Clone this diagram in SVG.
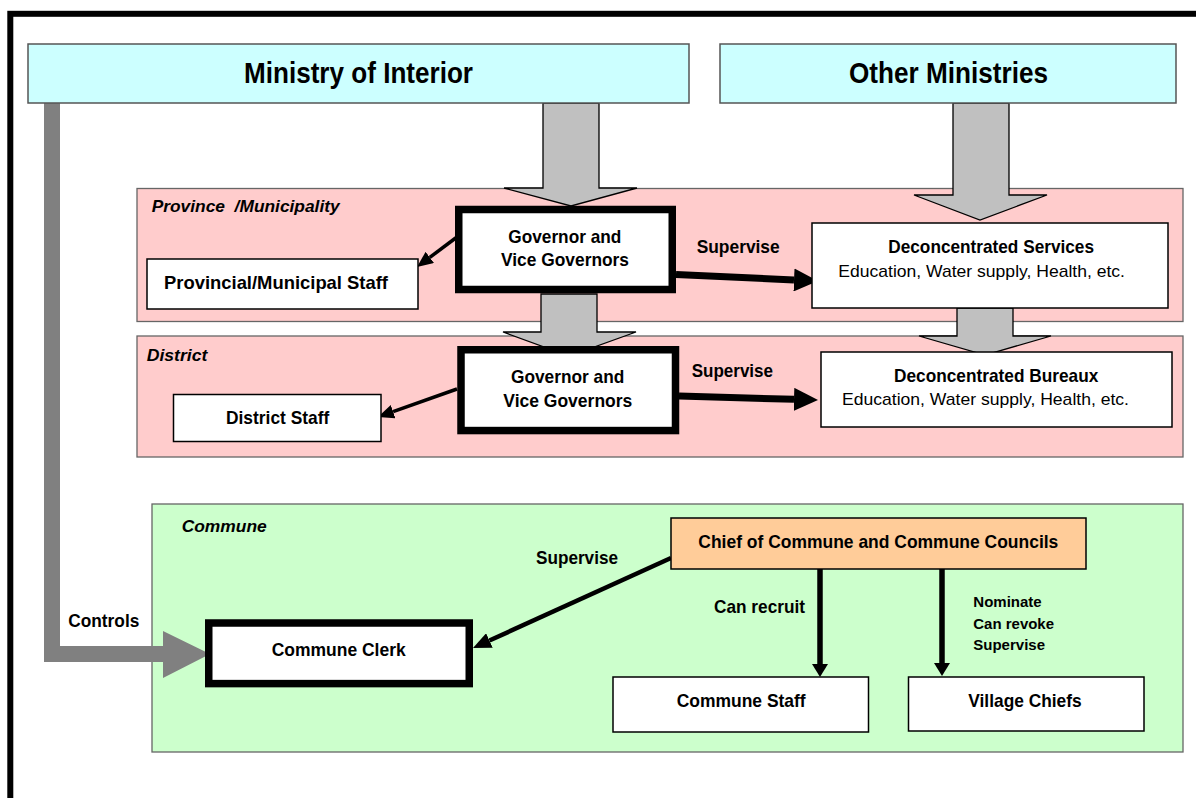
<svg xmlns="http://www.w3.org/2000/svg" width="1196" height="798" viewBox="0 0 1196 798">
<style>
text{font-family:"Liberation Sans",Arial,sans-serif;fill:#000}
.b{font-weight:bold;font-size:19px}
.t{font-weight:bold;font-size:30px}
.it{font-weight:bold;font-style:italic;font-size:17px}
.n{font-size:17px}
.s{font-weight:bold;font-size:15px}
.box{fill:#fff;stroke:#000;stroke-width:1.5}
.thick{fill:#fff;stroke:#000;stroke-width:7.5}
.min{fill:#CCFFFF;stroke:#555;stroke-width:1.5}
.pink{fill:#FFCCCC;stroke:#666;stroke-width:1.3}
.green{fill:#CCFFCC;stroke:#666;stroke-width:1.3}
.block{fill:#C0C0C0;stroke:#000;stroke-width:1.3}
.ln{stroke:#000;fill:none}
</style>
<defs>
<marker id="hThick" markerUnits="userSpaceOnUse" markerWidth="24" markerHeight="23" viewBox="0 0 24 23" refX="0" refY="11.5" orient="auto"><path d="M0,0 L24,11.5 L0,23 z" fill="#000"/></marker>
<marker id="hThin" markerUnits="userSpaceOnUse" markerWidth="16" markerHeight="14" viewBox="0 0 16 14" refX="0" refY="7" orient="auto"><path d="M0,0 L16,7 L0,14 z" fill="#000"/></marker>
<marker id="hMed" markerUnits="userSpaceOnUse" markerWidth="18" markerHeight="16" viewBox="0 0 18 16" refX="0" refY="8" orient="auto"><path d="M0,0 L18,8 L0,16 z" fill="#000"/></marker>
<marker id="hDown" markerUnits="userSpaceOnUse" markerWidth="13" markerHeight="16" viewBox="0 0 13 16" refX="0" refY="8" orient="auto"><path d="M0,0 L13,8 L0,16 z" fill="#000"/></marker>
</defs>
<rect x="0" y="0" width="1196" height="798" fill="#fff"/>
<rect x="10.3" y="13.8" width="1300" height="900" fill="none" stroke="#000" stroke-width="6"/>

<g id="region-province"><rect class="pink" x="137" y="188.5" width="1046" height="133"/><text class="it" x="151.7" y="211.7" textLength="188" lengthAdjust="spacingAndGlyphs">Province&#160; /Municipality</text></g>
<g id="region-district"><rect class="pink" x="137" y="336" width="1046" height="121"/><text class="it" x="146.7" y="361" textLength="60.7" lengthAdjust="spacingAndGlyphs">District</text></g>
<g id="region-commune"><rect class="green" x="152" y="504" width="1031" height="248"/><text class="it" x="181.7" y="532.3" textLength="85" lengthAdjust="spacingAndGlyphs">Commune</text></g>

<g id="connectors">
<polygon class="block" points="543,103 599,103 599,188 637,188 571,206 504,188 543,188"/>
<polygon class="block" points="541,294 597,294 597,332 636,332 569,356 503,332 541,332"/>
<polygon class="block" points="953,103 1009,103 1009,195 1047,195 980,220 914,195 953,195"/>
<polygon class="block" points="957,308 1013,308 1013,336 1051,336 985,355 919,336 957,336"/>
<polygon fill="#808080" points="44,103 60,103 60,646 163,646 163,631 210,654 163,678 163,662 44,662"/>
<line class="ln" stroke-width="7" x1="676" y1="274.5" x2="794" y2="279.9" marker-end="url(#hThick)"/>
<line class="ln" stroke-width="7" x1="679" y1="396" x2="794" y2="399.3" marker-end="url(#hThick)"/>
<line class="ln" stroke-width="3.5" x1="457" y1="237" x2="429.8" y2="257.4" marker-end="url(#hThin)"/>
<line class="ln" stroke-width="3.5" x1="457" y1="389" x2="393.1" y2="411.65" marker-end="url(#hThin)"/>
<line class="ln" stroke-width="4.5" x1="671" y1="558" x2="489.4" y2="640.55" marker-end="url(#hMed)"/>
<line class="ln" stroke-width="5.5" x1="820" y1="569" x2="820" y2="664" marker-end="url(#hDown)"/>
<line class="ln" stroke-width="5.5" x1="942" y1="569" x2="942" y2="663" marker-end="url(#hDown)"/>
<text class="b" x="696.7" y="253.3" textLength="83" lengthAdjust="spacingAndGlyphs">Supervise</text>
<text class="b" x="691.7" y="377" textLength="81.3" lengthAdjust="spacingAndGlyphs">Supervise</text>
<text class="b" x="68.3" y="627.3" textLength="71" lengthAdjust="spacingAndGlyphs">Controls</text>
<text class="b" x="536" y="564.3" textLength="82" lengthAdjust="spacingAndGlyphs">Supervise</text>
<text class="b" x="714" y="613.3" textLength="91" lengthAdjust="spacingAndGlyphs">Can recruit</text>
<text class="s" x="973.3" y="607.3" textLength="68.4" lengthAdjust="spacingAndGlyphs">Nominate</text>
<text class="s" x="973.3" y="629.3" textLength="80.7" lengthAdjust="spacingAndGlyphs">Can revoke</text>
<text class="s" x="973.3" y="650" textLength="71.7" lengthAdjust="spacingAndGlyphs">Supervise</text>
</g>

<g id="ministry-interior"><rect class="min" x="28" y="44" width="661" height="59"/><text class="t" x="244" y="83" textLength="229" lengthAdjust="spacingAndGlyphs">Ministry of Interior</text></g>
<g id="other-ministries"><rect class="min" x="720" y="44" width="456" height="59"/><text class="t" x="849" y="83" textLength="199" lengthAdjust="spacingAndGlyphs">Other Ministries</text></g>

<g id="governor-province"><rect class="thick" x="458.75" y="209.5" width="213.5" height="80"/><text class="b" x="508.3" y="242.7" textLength="113" lengthAdjust="spacingAndGlyphs">Governor and</text><text class="b" x="501" y="266" textLength="128" lengthAdjust="spacingAndGlyphs">Vice Governors</text></g>
<g id="provincial-staff"><rect class="box" x="147" y="259" width="271" height="50"/><text class="b" x="164" y="289" textLength="224" lengthAdjust="spacingAndGlyphs">Provincial/Municipal Staff</text></g>
<g id="deconc-services"><rect class="box" x="812" y="223" width="356" height="85"/><text class="b" x="888.3" y="252.7" textLength="205.7" lengthAdjust="spacingAndGlyphs">Deconcentrated Services</text><text class="n" x="838.3" y="277.3" textLength="286.7" lengthAdjust="spacingAndGlyphs">Education, Water supply, Health, etc.</text></g>

<g id="governor-district"><rect class="thick" x="461" y="349.75" width="214.5" height="80.8"/><text class="b" x="511" y="382.7" textLength="113.3" lengthAdjust="spacingAndGlyphs">Governor and</text><text class="b" x="503.3" y="407.3" textLength="129" lengthAdjust="spacingAndGlyphs">Vice Governors</text></g>
<g id="district-staff"><rect class="box" x="173.5" y="394.5" width="207.5" height="47"/><text class="b" x="226" y="424.3" textLength="103.3" lengthAdjust="spacingAndGlyphs">District Staff</text></g>
<g id="deconc-bureaux"><rect class="box" x="821" y="352" width="351" height="75"/><text class="b" x="894" y="381.7" textLength="204.3" lengthAdjust="spacingAndGlyphs">Deconcentrated Bureaux</text><text class="n" x="842" y="405" textLength="287" lengthAdjust="spacingAndGlyphs">Education, Water supply, Health, etc.</text></g>

<g id="chief-commune"><rect x="671" y="518" width="415" height="51" fill="#FFCC99" stroke="#000" stroke-width="1.5"/><text class="b" x="698.3" y="548.3" textLength="360" lengthAdjust="spacingAndGlyphs">Chief of Commune and Commune Councils</text></g>
<g id="commune-clerk"><rect class="thick" x="208.75" y="623" width="260.5" height="60.6"/><text class="b" x="271.7" y="655.7" textLength="134" lengthAdjust="spacingAndGlyphs">Commune Clerk</text></g>
<g id="commune-staff"><rect class="box" x="613" y="677" width="255.5" height="55"/><text class="b" x="676.7" y="706.7" textLength="129" lengthAdjust="spacingAndGlyphs">Commune Staff</text></g>
<g id="village-chiefs"><rect class="box" x="908.5" y="677" width="235.5" height="54"/><text class="b" x="968.3" y="706.7" textLength="113.4" lengthAdjust="spacingAndGlyphs">Village Chiefs</text></g>
</svg>
